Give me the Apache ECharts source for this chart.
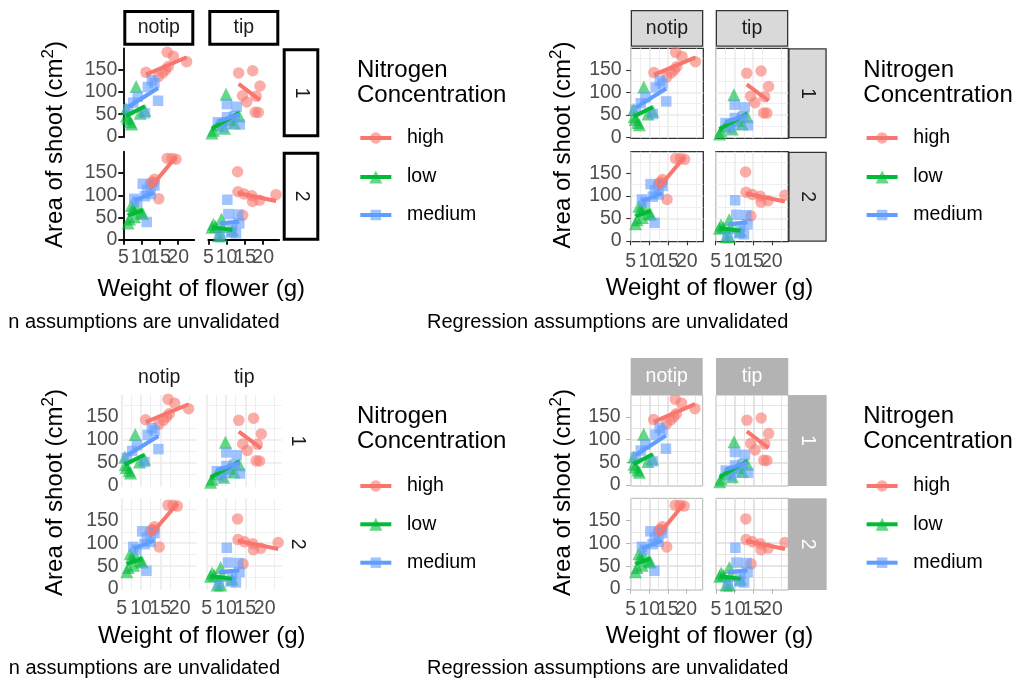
<!DOCTYPE html>
<html><head><meta charset="utf-8">
<script src="https://cdn.jsdelivr.net/npm/echarts@6/dist/echarts.min.js"></script>
<style>html,body{margin:0;padding:0;background:#fff}#c{width:1017px;height:684px}</style>
</head><body><div id="c"></div>
<script>
// ---------- categories & tick labels ----------
const treatments = ['notip', 'tip'];
const blocks = ['1', '2'];
const nitrogen = ['high', 'low', 'medium'];
const xTicks = [5, 10, 15, 20];
const yTicks = [0, 50, 100, 150];
const xTitle = 'Weight of flower (g)';
const legendTitle = ['Nitrogen', 'Concentration'];
const caption = 'Regression assumptions are unvalidated';
const captionCut = 'n assumptions are unvalidated'; // visible part in the left-hand plots

// ---------- data: weight (x) and shoot area (y) ----------
const notip1_high_x = [11.2, 14.6, 15.8, 16.6, 17.3, 17.0, 18.7, 22.3];
const notip1_high_y = [144, 134, 143, 150, 157, 189, 180, 168];
const notip1_medium_x = [12.8, 11.7, 8.95, 14.5, 10.9, 7.7, 6.35, 13.5];
const notip1_medium_y = [126, 111, 89, 80, 52, 76, 61, 120];
const notip1_low_x = [5.9, 5.8, 6.2, 6.9, 7.3, 8.5, 9.6, 10.9];
const notip1_low_y = [46, 62, 40, 33, 28, 112, 52, 58];

const notip2_high_x = [12.4, 12.9, 13.3, 13.5, 14.7, 17.0, 18.3, 19.4];
const notip2_high_y = [126, 130, 128, 136, 92, 183, 183, 181];
const notip2_medium_x = [8.0, 8.8, 10.3, 10.9, 11.5, 12.5, 13.5, 11.4];
const notip2_medium_y = [92, 86, 126, 98, 112, 103, 122, 40];
const notip2_low_x = [6.3, 6.7, 7.2, 7.6, 8.1, 8.5, 9.9, 10.3];
const notip2_low_y = [38, 47, 77, 70, 52, 74, 62, 59];

const tip1_high_x = [18.66, 18.07, 13.29, 14.33, 19.12, 15.49, 17.82, 17.13];
const tip1_high_y = [54, 90.5, 142.7, 91.4, 113.2, 77.2, 54.4, 147.5];
const tip1_medium_x = [7.62, 12.14, 12.76, 8.78, 13.58, 10.08, 10.11, 10.28];
const tip1_medium_y = [31.9, 46, 66.7, 20.3, 26.9, 72.7, 43.1, 28.5];
const tip1_low_x = [9.85, 6.4, 6.0, 7.6, 13.4, 12.1, 9.4, 10.8];
const tip1_low_y = [95, 14, 7.5, 26, 46, 30, 18.6, 38];

const tip2_high_x = [13.0, 13.1, 14.4, 14.8, 16.9, 17.1, 19.0, 23.5];
const tip2_high_y = [153, 108, 55, 103, 99, 86, 89, 101.5];
const tip2_medium_x = [10.48, 13.48, 13.18, 11.56, 8.16, 11.22, 10.2, 12.55];
const tip2_medium_y = [57.8, 36.9, 56.8, 31.3, 9.7, 16.4, 90.1, 14.4];
const tip2_low_x = [6.0, 6.4, 7.0, 8.6, 9.0, 7.7, 8.6, 11.6];
const tip2_low_y = [28, 35, 30, 47, 30, 9, 9, 22];

const FACETS = {
  notip1: {high: [notip1_high_x, notip1_high_y], low: [notip1_low_x, notip1_low_y], medium: [notip1_medium_x, notip1_medium_y]},
  notip2: {high: [notip2_high_x, notip2_high_y], low: [notip2_low_x, notip2_low_y], medium: [notip2_medium_x, notip2_medium_y]},
  tip1: {high: [tip1_high_x, tip1_high_y], low: [tip1_low_x, tip1_low_y], medium: [tip1_medium_x, tip1_medium_y]},
  tip2: {high: [tip2_high_x, tip2_high_y], low: [tip2_low_x, tip2_low_y], medium: [tip2_medium_x, tip2_medium_y]}
};

// ---------- styles ----------
const FONT = '"Liberation Sans", Arial, Helvetica, sans-serif';
const COLORS = {high: '#F8766D', low: '#00BA38', medium: '#619CFF'};
const SYMBOLS = {high: 'circle', low: 'triangle', medium: 'rect'};
const SIZES = {high: 11.5, low: 13, medium: 10.5};
const PT_OPACITY = 0.6;
const LINE_W = 4;
const SMALL = 19.5, BIG = 24, CAP = 20;
const X_MIN = 5, X_MAX = 24.4, Y_MIN = -2, Y_MAX = 198;

const THEMES = {
  classic: {grid: null, border: null, axisLine: {color: '#000', width: 1.8}, tick: {color: '#000', width: 1.8, len: 5},
    strip: {fill: '#fff', stroke: '#000', lw: 3, text: '#1A1A1A'}, my: 6, mx: 7},
  bw: {grid: {major: '#EBEBEB', minor: '#EBEBEB'}, border: {color: '#333333', width: 1.3}, axisLine: null, tick: {color: '#333333', width: 1.1, len: 4.5},
    strip: {fill: '#D9D9D9', stroke: '#333333', lw: 1.3, text: '#1A1A1A'}, my: 9, mx: 10},
  minimal: {grid: {major: '#EBEBEB', minor: '#EBEBEB'}, border: null, axisLine: null, tick: null,
    strip: {fill: null, stroke: null, text: '#1A1A1A'}, my: 3, mx: 9},
  light: {grid: {major: '#DEDEDE', minor: '#DEDEDE'}, border: {color: '#B3B3B3', width: 1}, axisLine: null, tick: {color: '#B3B3B3', width: 1, len: 4.5},
    strip: {fill: '#B3B3B3', stroke: null, text: '#FFFFFF'}, my: 10, mx: 10}
};

const LAYOUTS = [
  {theme: 'classic', cols: [[123.3, 71], [208.3, 71]], rows: [[48.3, 89], [151.7, 89]], colStrip: [10, 35.7], rowStrip: [282.7, 36.6],
    yTitle: [55, 144.5], xTitle: [201.3, 289], cap: captionCut, capRight: 279.5, capY: 322, legX: 357, legTitleY: [70, 95.5], legY: [138, 177, 215]},
  {theme: 'bw', cols: [[630.7, 72.6], [715.7, 72.6]], rows: [[48.3, 90], [151.7, 90]], colStrip: [10, 36.7], rowStrip: [788.3, 38.4],
    yTitle: [563, 145], xTitle: [709.5, 288.5], cap: caption, capRight: 788.3, capY: 322, legX: 863.3, legTitleY: [70, 95.5], legY: [138, 177, 215]},
  {theme: 'minimal', cols: [[121.7, 75], [206.7, 75]], rows: [[395, 91.7], [498.3, 91.7]], colStrip: [359, 37], rowStrip: [282, 30],
    yTitle: [55, 492.5], xTitle: [201.7, 636.7], cap: captionCut, capRight: 280, capY: 668, legX: 357, legTitleY: [416.7, 441.7], legY: [486, 524.3, 562.7]},
  {theme: 'light', cols: [[630.7, 72], [716, 72.3]], rows: [[395, 91], [498.3, 91.7]], colStrip: [358, 37], rowStrip: [788.3, 38.4],
    yTitle: [563, 492.5], xTitle: [709.5, 636.7], cap: caption, capRight: 788.3, capY: 668, legX: 863.3, legTitleY: [416.7, 441.7], legY: [486, 524.3, 562.7]}
];

function fitLine(xs, ys) {
  const n = xs.length;
  const mx = xs.reduce((a, b) => a + b, 0) / n;
  const my = ys.reduce((a, b) => a + b, 0) / n;
  let sxx = 0, sxy = 0;
  for (let i = 0; i < n; i++) { sxx += (xs[i] - mx) ** 2; sxy += (xs[i] - mx) * (ys[i] - my); }
  const b = sxy / sxx, a = my - b * mx;
  const x0 = Math.min(...xs), x1 = Math.max(...xs);
  return [[x0, a + b * x0], [x1, a + b * x1]];
}

function txt(x, y, text, size, fill, align, vAlign, rot) {
  const el = {type: 'text', x: x, y: y, silent: true, z: 10,
    style: {text: text, fontSize: size, fontFamily: FONT, fill: fill, align: align || 'center', verticalAlign: vAlign || 'middle',
      textAlign: align || 'center', textVerticalAlign: vAlign || 'middle'}};
  if (rot) el.rotation = rot;
  return el;
}

// an empty label at the axis end keeps ECharts from dropping the overlapping "15"/"20" pair
const xLabelValues = xTicks.concat([X_MAX]);
const xLabelFormatter = (v) => (xTicks.indexOf(v) >= 0 ? String(v) : '');

const grids = [], xAxes = [], yAxes = [], series = [], graphics = [];

LAYOUTS.forEach((L) => {
  const T = THEMES[L.theme];
  treatments.forEach((tr, c) => {
    blocks.forEach((bl, r) => {
      const gi = grids.length;
      const [gx, gw] = L.cols[c];
      const [gy, gh] = L.rows[r];
      grids.push({left: gx, top: gy, width: gw, height: gh, containLabel: false, outerBoundsMode: 'none',
        show: !!T.border, borderColor: T.border ? T.border.color : 'transparent', borderWidth: T.border ? T.border.width : 0,
        backgroundColor: 'transparent'});
      const showTickX = !!T.tick && r === 1;
      const showTickY = !!T.tick && c === 0;
      xAxes.push({gridIndex: gi, type: 'value', min: X_MIN, max: X_MAX, interval: 5,
        axisLine: {show: !!T.axisLine && r === 1, lineStyle: T.axisLine ? {color: T.axisLine.color, width: T.axisLine.width} : {}},
        axisTick: {show: showTickX, customValues: xTicks, length: T.tick ? T.tick.len : 0,
          lineStyle: T.tick ? {color: T.tick.color, width: T.tick.width} : {}},
        axisLabel: {show: r === 1, customValues: xLabelValues, formatter: xLabelFormatter, hideOverlap: false,
          fontSize: SMALL, fontFamily: FONT, color: '#4D4D4D', margin: T.mx},
        splitLine: {show: !!T.grid, showMinLine: true, showMaxLine: false, lineStyle: {color: T.grid ? T.grid.major : '#fff', width: 1.6}},
        minorTick: {show: false, splitNumber: 2},
        minorSplitLine: {show: !!T.grid, lineStyle: {color: T.grid ? T.grid.minor : '#fff', width: 0.8}}
      });
      yAxes.push({gridIndex: gi, type: 'value', min: Y_MIN, max: Y_MAX, splitNumber: 4,
        axisLine: {show: !!T.axisLine && c === 0, lineStyle: T.axisLine ? {color: T.axisLine.color, width: T.axisLine.width} : {}},
        axisTick: {show: showTickY, customValues: yTicks, length: T.tick ? T.tick.len : 0,
          lineStyle: T.tick ? {color: T.tick.color, width: T.tick.width} : {}},
        axisLabel: {show: c === 0, customValues: yTicks, hideOverlap: false, showMinLabel: true, showMaxLabel: true,
          fontSize: SMALL, fontFamily: FONT, color: '#4D4D4D', margin: T.my},
        splitLine: {show: !!T.grid, showMinLine: false, showMaxLine: false, lineStyle: {color: T.grid ? T.grid.major : '#fff', width: 1.6}},
        minorTick: {show: false, splitNumber: 2},
        minorSplitLine: {show: !!T.grid, lineStyle: {color: T.grid ? T.grid.minor : '#fff', width: 0.8}}
      });
      const fd = FACETS[tr + bl];
      nitrogen.forEach((g) => {
        const [xs, ys] = fd[g];
        series.push({type: 'scatter', name: g, xAxisIndex: gi, yAxisIndex: gi, silent: true, z: 2,
          symbol: SYMBOLS[g], symbolSize: SIZES[g],
          itemStyle: {color: COLORS[g], opacity: PT_OPACITY},
          data: xs.map((x, i) => [x, ys[i]])});
      });
      nitrogen.forEach((g) => {
        const [xs, ys] = fd[g];
        series.push({type: 'line', name: g, xAxisIndex: gi, yAxisIndex: gi, silent: true, z: 3,
          showSymbol: false, symbol: 'none', clip: false,
          lineStyle: {color: COLORS[g], width: LINE_W, cap: 'butt'},
          data: fitLine(xs, ys)});
      });
    });
  });

  // column strips
  treatments.forEach((tr, c) => {
    const [gx, gw] = L.cols[c];
    const [sy, sh] = L.colStrip;
    if (T.strip.fill) {
      const lw = T.strip.stroke ? T.strip.lw : 0;
      graphics.push({type: 'rect', silent: true, z: 5,
        shape: {x: gx + lw / 2, y: sy + lw / 2, width: gw - lw, height: sh - lw},
        style: {fill: T.strip.fill, stroke: T.strip.stroke || null, lineWidth: lw}});
    }
    graphics.push(txt(gx + gw / 2, sy + sh / 2, tr, SMALL, T.strip.text));
  });
  // row strips
  blocks.forEach((bl, r) => {
    const [gy, gh] = L.rows[r];
    const [sx, sw] = L.rowStrip;
    if (T.strip.fill) {
      const lw = T.strip.stroke ? T.strip.lw : 0;
      graphics.push({type: 'rect', silent: true, z: 5,
        shape: {x: sx + lw / 2, y: gy + lw / 2, width: sw - lw, height: gh - lw},
        style: {fill: T.strip.fill, stroke: T.strip.stroke || null, lineWidth: lw}});
    }
    graphics.push(txt(sx + sw / 2, gy + gh / 2, bl, SMALL, T.strip.text, 'center', 'middle', -Math.PI / 2));
  });
  // axis titles
  graphics.push(txt(L.xTitle[0], L.xTitle[1], xTitle, BIG, '#000'));
  graphics.push({type: 'text', x: L.yTitle[0], y: L.yTitle[1], rotation: Math.PI / 2, silent: true, z: 10,
    style: {text: '{a|Area of shoot (cm}{s|2}{a|)}', align: 'center', verticalAlign: 'middle',
      textAlign: 'center', textVerticalAlign: 'middle',
      rich: {a: {fontSize: BIG, fontFamily: FONT, fill: '#000', color: '#000', lineHeight: 30},
             s: {fontSize: 17, fontFamily: FONT, fill: '#000', color: '#000', lineHeight: 17, verticalAlign: 'top'}}}});
  // caption
  graphics.push(txt(L.capRight, L.capY, L.cap, CAP, '#000', 'right', 'middle'));
  // legend
  graphics.push(txt(L.legX, L.legTitleY[0], legendTitle[0], BIG, '#000', 'left', 'middle'));
  graphics.push(txt(L.legX, L.legTitleY[1], legendTitle[1], BIG, '#000', 'left', 'middle'));
  nitrogen.forEach((g, i) => {
    const y = L.legY[i];
    const x1 = L.legX + 3.3, x2 = L.legX + 34.3, cx = (x1 + x2) / 2;
    const st = {fill: COLORS[g], opacity: PT_OPACITY};
    if (g === 'high') graphics.push({type: 'circle', silent: true, z: 10, shape: {cx: cx, cy: y, r: SIZES[g] / 2}, style: st});
    else if (g === 'low') { const h = SIZES[g] / 2; graphics.push({type: 'polygon', silent: true, z: 10, shape: {points: [[cx, y - h], [cx + h, y + h], [cx - h, y + h]]}, style: st}); }
    else { const h = SIZES[g] / 2; graphics.push({type: 'rect', silent: true, z: 10, shape: {x: cx - h, y: y - h, width: 2 * h, height: 2 * h}, style: st}); }
    graphics.push({type: 'line', silent: true, z: 11, shape: {x1: x1, y1: y, x2: x2, y2: y}, style: {stroke: COLORS[g], lineWidth: LINE_W}});
    graphics.push(txt(L.legX + 50, y, g, SMALL, '#000', 'left', 'middle'));
  });
});

const chart = echarts.init(document.getElementById('c'), null, {renderer: 'canvas'});
chart.setOption({
  backgroundColor: '#ffffff',
  animation: false,
  textStyle: {fontFamily: FONT},
  grid: grids, xAxis: xAxes, yAxis: yAxes, series: series,
  graphic: {elements: graphics}
});
</script></body></html>
